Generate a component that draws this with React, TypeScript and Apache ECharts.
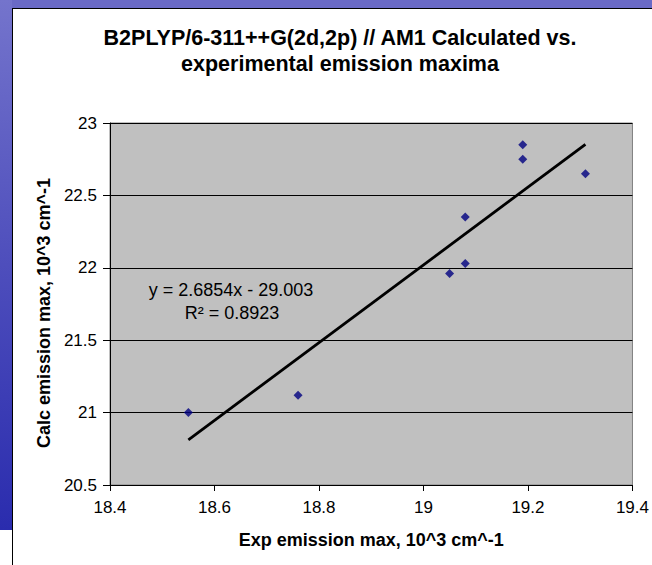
import React, { useEffect, useRef } from "react";
import * as echarts from "echarts";

const expMax = [18.55, 18.76, 19.05, 19.08, 19.08, 19.19, 19.19, 19.31];
const calcMax = [21.0, 21.12, 21.96, 22.03, 22.35, 22.75, 22.85, 22.65];
const trendSlope = 2.6854;
const trendIntercept = -29.003;
const rSquared = 0.8923;
const xTicks = [18.4, 18.6, 18.8, 19, 19.2, 19.4];
const yTicks = [20.5, 21, 21.5, 22, 22.5, 23];

const titleText = "B2PLYP/6-311++G(2d,2p) // AM1 Calculated vs.\nexperimental emission maxima";
const xName = "Exp emission max, 10^3 cm^-1";
const yName = "Calc emission max, 10^3 cm^-1";

const FONT = "'Liberation Sans', Arial, Helvetica, sans-serif";

export default function App() {
  const ref = useRef<HTMLDivElement>(null);

  useEffect(() => {
    if (!ref.current) return;
    const chart = echarts.init(ref.current, undefined, { renderer: "svg" });

    const xMin = Math.min(...expMax);
    const xMax = Math.max(...expMax);
    const trend = [
      [xMin, trendSlope * xMin + trendIntercept],
      [xMax, trendSlope * xMax + trendIntercept],
    ];
    const xInterval = +(xTicks[1] - xTicks[0]).toFixed(4);
    const yInterval = +(yTicks[1] - yTicks[0]).toFixed(4);
    const eqSign = trendIntercept < 0 ? "-" : "+";

    chart.setOption({
      animation: false,
      backgroundColor: "#ffffff",
      title: {
        text: titleText,
        left: 340,
        top: 25,
        textAlign: "center",
        padding: 0,
        textStyle: {
          fontSize: 21.5,
          fontWeight: "bold",
          lineHeight: 26,
          fontFamily: FONT,
          color: "#000",
        },
      },
      grid: {
        left: 110,
        top: 123,
        width: 525,
        height: 362,
        show: true,
        backgroundColor: "#c0c0c0",
        borderColor: "#808080",
        borderWidth: 1,
      },
      xAxis: {
        type: "value",
        min: xTicks[0],
        max: xTicks[xTicks.length - 1],
        interval: xInterval,
        axisLine: { show: true, onZero: false, lineStyle: { color: "#000", width: 1 } },
        axisTick: { show: true, length: 6, lineStyle: { color: "#000" } },
        axisLabel: { color: "#000", fontSize: 17, fontFamily: FONT, margin: 14 },
        splitLine: { show: false },
        name: xName,
        nameLocation: "middle",
        nameGap: 46,
        nameTextStyle: { fontWeight: "bold", fontSize: 18, color: "#000", fontFamily: FONT },
      },
      yAxis: {
        type: "value",
        min: yTicks[0],
        max: yTicks[yTicks.length - 1],
        interval: yInterval,
        axisLine: { show: true, onZero: false, lineStyle: { color: "#000", width: 1 } },
        axisTick: { show: true, length: 7, lineStyle: { color: "#000" } },
        axisLabel: { color: "#000", fontSize: 17, fontFamily: FONT, margin: 13 },
        splitLine: { show: true, lineStyle: { color: "#000", width: 1 } },
        name: yName,
        nameLocation: "middle",
        nameGap: 57,
        nameTextStyle: {
          fontWeight: "bold",
          fontSize: 18,
          color: "#000",
          fontFamily: FONT,
          padding: [0, 18, 0, 0],
        },
      },
      graphic: [
        {
          type: "rect",
          z: -10,
          shape: { x: 0, y: 0, width: 652, height: 8 },
          style: { fill: "#6a6ac6" },
        },
        {
          type: "rect",
          z: -10,
          shape: { x: 0, y: 0, width: 12, height: 530 },
          style: {
            fill: new echarts.graphic.LinearGradient(0, 0, 0, 1, [
              { offset: 0, color: "#7474cc" },
              { offset: 0.5, color: "#4e4ebc" },
              { offset: 1, color: "#2a2cae" },
            ]),
          },
        },
        {
          type: "line",
          shape: { x1: 12.5, y1: 8, x2: 12.5, y2: 565 },
          style: { stroke: "#000", lineWidth: 1 },
        },
        {
          type: "line",
          shape: { x1: 12, y1: 8.5, x2: 652, y2: 8.5 },
          style: { stroke: "#000", lineWidth: 1 },
        },
        {
          type: "text",
          x: 231,
          y: 290,
          z: 10,
          style: {
            text: `y = ${trendSlope}x ${eqSign} ${Math.abs(trendIntercept).toFixed(3)}`,
            align: "center",
            verticalAlign: "middle",
            fontSize: 18,
            fontFamily: FONT,
            fill: "#000",
          },
        },
        {
          type: "text",
          x: 232,
          y: 313,
          z: 10,
          style: {
            text: `R² = ${rSquared}`,
            align: "center",
            verticalAlign: "middle",
            fontSize: 18,
            fontFamily: FONT,
            fill: "#000",
          },
        },
      ],
      series: [
        {
          type: "scatter",
          name: "Data",
          data: expMax.map((x, i) => [x, calcMax[i]]),
          symbol: "diamond",
          symbolSize: 9,
          itemStyle: { color: "#000080" },
        },
        {
          type: "line",
          name: "Linear trend",
          data: trend,
          symbol: "none",
          showSymbol: false,
          silent: true,
          lineStyle: { color: "#000", width: 2.8 },
        },
      ],
    });

    return () => chart.dispose();
  }, []);

  return (
    <div
      ref={ref}
      style={{ position: "fixed", left: 0, top: 0, width: 652, height: 565 }}
    />
  );
}
